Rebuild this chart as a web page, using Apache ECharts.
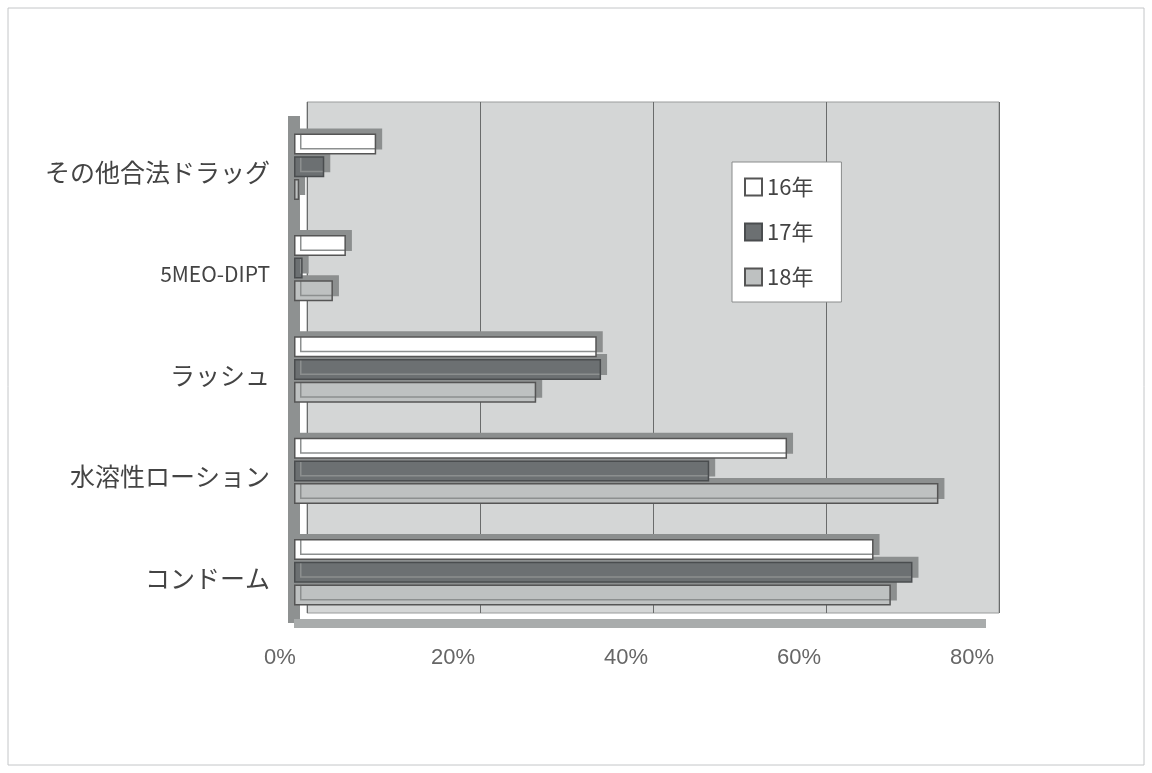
<!DOCTYPE html>
<html>
<head>
<meta charset="utf-8">
<script src="https://cdn.jsdelivr.net/npm/echarts@6/dist/echarts.min.js"></script>
<style>
  html, body { margin: 0; padding: 0; background: #fff; }
  #chart { width: 1152px; height: 773px; }
</style>
</head>
<body>
<div id="chart"></div>
<script>
const categories = ['その他合法ドラッグ', '5MEO-DIPT', 'ラッシュ', '水溶性ローション', 'コンドーム'];
const y16 = [9.5, 6, 35, 57, 67];
const y17 = [3.5, 1, 35.5, 48, 71.5];
const y18 = [0.6, 4.5, 28, 74.5, 69];
const xTicks = [0, 20, 40, 60, 80];

const chart = echarts.init(document.getElementById('chart'));

// fake depth: a hard shadow up and to the right
const depth = { shadowColor: '#8c8f8f', shadowOffsetX: 6, shadowOffsetY: -5, shadowBlur: 0 };

function bar(name, values, color, border, z) {
  return {
    name,
    type: 'bar',
    xAxisIndex: 1,
    yAxisIndex: 1,
    z,
    data: values,
    barWidth: 21,
    barGap: '8%',
    barCategoryGap: '34%',
    itemStyle: { color, borderColor: border, borderWidth: 1.5, ...depth },
  };
}

chart.setOption({
  animation: false,
  backgroundColor: '#fff',
  graphic: [{
    type: 'rect',
    shape: { x: 8, y: 8, width: 1136, height: 757 },
    style: { fill: 'none', stroke: '#c4c6c8', lineWidth: 1 },
    silent: true,
  }],
  grid: [
    // back wall
    { left: 307, top: 102, width: 692, bottom: 160, backgroundColor: '#d4d6d6', borderColor: '#9a9c9c', borderWidth: 1, show: true },
    // front plane, bars
    { left: 294, top: 116, width: 692, bottom: 150 },
  ],
  legend: {
    orient: 'vertical',
    left: 732,
    top: 162,
    icon: 'rect',
    itemWidth: 17,
    itemHeight: 17,
    itemGap: 23,
    padding: [14, 28, 14, 12],
    backgroundColor: '#fff',
    borderColor: '#8a8c8c',
    borderWidth: 1,
    textStyle: { fontSize: 22, color: '#444', fontFamily: 'Noto Sans CJK JP' },
    data: ['16年', '17年', '18年'],
  },
  xAxis: [
    {
      gridIndex: 0,
      type: 'value', min: 0, max: 80, interval: 20,
      axisLine: { show: false }, axisTick: { show: false }, axisLabel: { show: false },
      splitLine: { show: true, lineStyle: { color: '#6a6c6c', width: 1 } },
    },
    {
      gridIndex: 1,
      type: 'value', min: 0, max: 80, interval: 20,
      axisLine: { show: true, lineStyle: { color: '#a9acac', width: 9, cap: 'butt' } },
      axisTick: { show: false },
      splitLine: { show: false },
      axisLabel: {
        margin: 24,
        padding: [0, 28, 0, 0],
        fontSize: 22,
        color: '#666',
        fontFamily: 'Liberation Sans Narrow, Liberation Sans',
        formatter: (v) => xTicks.includes(v) ? v + '%' : '',
      },
    },
  ],
  yAxis: [
    {
      gridIndex: 0, type: 'category', data: categories, inverse: true,
      axisLine: { show: false }, axisTick: { show: false }, axisLabel: { show: false },
    },
    {
      gridIndex: 1, type: 'category', data: categories, inverse: true,
      axisLine: { show: true, lineStyle: { color: '#8e9191', width: 12, cap: 'butt' } },
      axisTick: { show: false },
      axisLabel: {
        margin: 24,
        padding: [12, 0, 0, 0],
        color: '#444',
        fontFamily: 'Noto Sans CJK JP',
        formatter: (v) => /^[0-9A-Z-]+$/.test(v) ? '{lat|' + v + '}' : '{jp|' + v + '}',
        rich: {
          jp: { fontSize: 25, color: '#444', fontFamily: 'Noto Sans CJK JP' },
          lat: { fontSize: 21, color: '#444', fontFamily: 'Noto Sans CJK JP' },
        },
      },
    },
  ],
  series: [
    bar('16年', y16, '#ffffff', '#555', 4),
    bar('17年', y17, '#6c7072', '#4a4d4f', 3),
    bar('18年', y18, '#bec1c1', '#555', 2),
  ],
});
</script>
</body>
</html>
